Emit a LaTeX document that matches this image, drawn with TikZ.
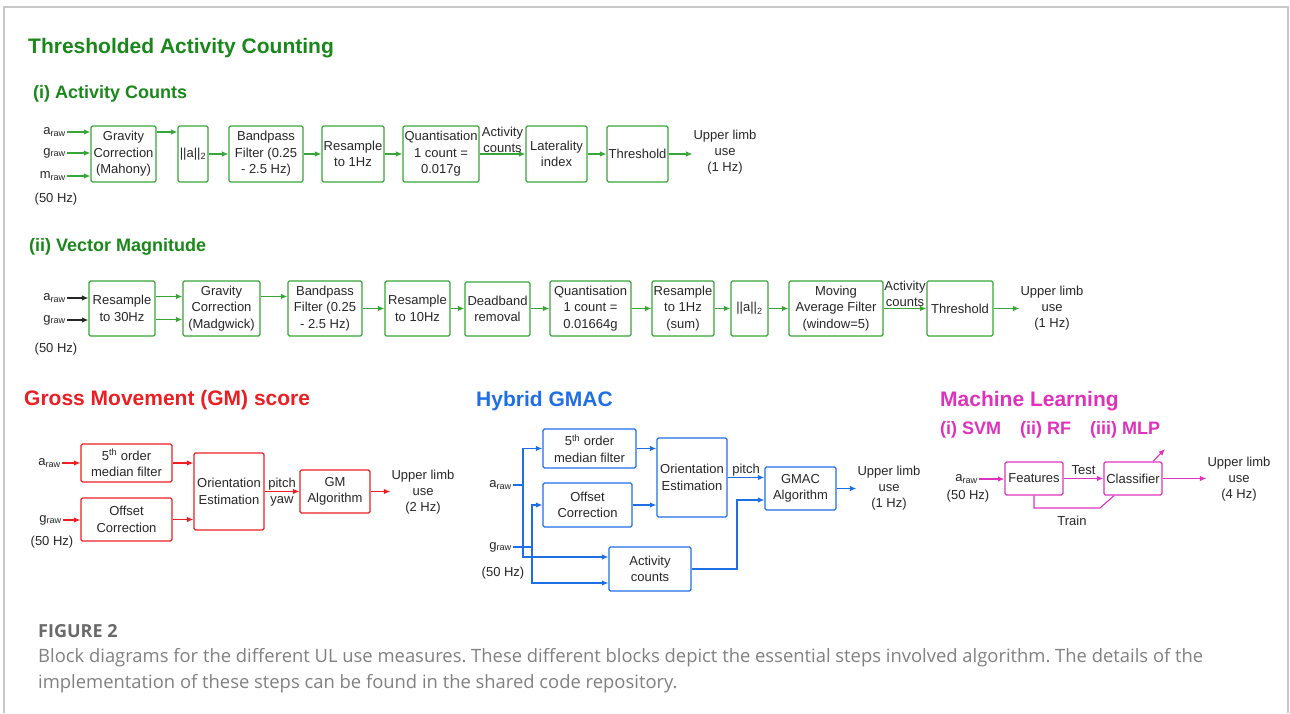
\documentclass[tikz,border=0pt]{standalone}
\usepackage{fontspec}
\setmainfont{Liberation Sans}
\newfontfamily\capfont{Open Sans}
\usepackage{tikz}
\usetikzlibrary{arrows.meta}
\frenchspacing
\definecolor{tacgreen}{RGB}{25,135,25}
\definecolor{boxgreen}{RGB}{55,165,55}
\definecolor{gmred}{RGB}{235,30,35}
\definecolor{gmacblue}{RGB}{30,110,230}
\definecolor{mlpink}{RGB}{222,50,188}
\definecolor{capgray}{RGB}{105,105,105}
\definecolor{framegray}{RGB}{200,200,200}
\tikzset{
  blk/.style={draw, rounded corners=1.5pt, line width=1.3pt, align=center, inner sep=1pt, text=black!85, font=\fontsize{13}{16.5}\selectfont},
  lbl/.style={align=center, inner sep=1pt, text=black!85, font=\fontsize{13}{16}\selectfont},
  ttl/.style={anchor=west, inner sep=0pt, font=\fontsize{21}{24}\selectfont\bfseries},
  subttl/.style={anchor=west, inner sep=0pt, font=\fontsize{18}{21}\selectfont\bfseries},
}

\begin{document}
\begin{tikzpicture}[x=1pt, y=-1pt,
  gbox/.style={blk, draw=boxgreen},
  rbox/.style={blk, draw=gmred},
  bbox/.style={blk, draw=gmacblue},
  mbox/.style={blk, draw=mlpink},
  garr/.style={boxgreen, line width=1.1pt, -{Latex[length=6.5pt,width=5.5pt]}},
  karr/.style={black!85, line width=1.1pt, -{Latex[length=6.5pt,width=5.5pt]}},
  rarr/.style={gmred, line width=1.1pt, -{Latex[length=6.5pt,width=5.5pt]}},
  barr/.style={gmacblue, line width=1.1pt, -{Latex[length=6.5pt,width=5.5pt]}},
  bline/.style={gmacblue, line width=1.1pt},
  marr/.style={mlpink, line width=1.1pt, -{Latex[length=6.5pt,width=5.5pt]}},
  mline/.style={mlpink, line width=1.1pt}]

\useasboundingbox (0,0) rectangle (1290,713);

%Frame
\draw[framegray, line width=1.3pt] (4,713) -- (4,7) -- (1288,7) -- (1288,713);

%Titles
\node[ttl, text=tacgreen] (ttac) at (28,48) {Thresholded Activity Counting};
\node[subttl, text=tacgreen] (tac) at (33,94) {(i) Activity Counts};
\node[subttl, text=tacgreen] (tvm) at (29,247) {(ii) Vector Magnitude};
\node[ttl, text=gmred] (tgm) at (24,400) {Gross Movement (GM) score};
\node[ttl, text=gmacblue] (tgmac) at (476,401) {Hybrid GMAC};
\node[ttl, text=mlpink] (tml) at (940,401) {Machine Learning};
\node[subttl, text=mlpink] (tsvm) at (940,430) {(i) SVM};
\node[subttl, text=mlpink] (trf) at (1020,430) {(ii) RF};
\node[subttl, text=mlpink] (tmlp) at (1090,430) {(iii) MLP};

%Activity counts chain
\node[lbl, anchor=east] (ar1) at (67,132) {a\textsubscript{raw}};
\node[lbl, anchor=east] (gr1) at (67,153) {g\textsubscript{raw}};
\node[lbl, anchor=east] (mr1) at (67,176) {m\textsubscript{raw}};
\node[lbl] (hz1) at (56,199) {(50 Hz)};
\node[gbox, minimum width=65pt, minimum height=56pt] (gc1) at (123.5,154) {Gravity\\Correction\\(Mahony)};
\node[gbox, minimum width=30pt, minimum height=56pt] (norm1) at (193,154) {||a||\textsubscript{2}};
\node[gbox, minimum width=74pt, minimum height=56pt] (bp1) at (266,154) {Bandpass\\Filter (0.25\\- 2.5 Hz)};
\node[gbox, minimum width=62pt, minimum height=56pt] (rs1) at (353,154) {Resample\\to 1Hz};
\node[gbox, minimum width=76pt, minimum height=56pt] (qt1) at (441,154) {Quantisation\\1 count =\\0.017g};
\node[gbox, minimum width=61pt, minimum height=56pt] (lat) at (556.5,154) {Laterality\\index};
\node[gbox, minimum width=61pt, minimum height=56pt] (thr1) at (637.5,154) {Threshold};
\node[lbl] (out1) at (725,152) {Upper limb\\use\\(1 Hz)};

\draw[garr] (ar1) -- (ar1 -| gc1.west);
\draw[garr] (gr1) -- (gr1 -| gc1.west);
\draw[garr] (mr1) -- (mr1 -| gc1.west);
\draw[garr] (gc1.east |- ar1) -- (norm1.west |- ar1);
\draw[garr] (norm1) -- (bp1);
\draw[garr] (bp1) -- (rs1);
\draw[garr] (rs1) -- (qt1);
\draw[garr] (qt1) -- node[lbl, above] (cnt1) {Activity\\counts} (lat);
\draw[garr] (lat) -- (thr1);
\draw[garr] (thr1) -- (thr1 -| out1.west);

%Vector magnitude chain
\node[lbl, anchor=east] (ar2) at (67,298) {a\textsubscript{raw}};
\node[lbl, anchor=east] (gr2) at (67,320) {g\textsubscript{raw}};
\node[lbl] (hz2) at (56,349) {(50 Hz)};
\node[gbox, minimum width=66pt, minimum height=55pt] (rs30) at (122,308.5) {Resample\\to 30Hz};
\node[gbox, minimum width=77pt, minimum height=55pt] (gc2) at (221.5,308.5) {Gravity\\Correction\\(Madgwick)};
\node[gbox, minimum width=74pt, minimum height=55pt] (bp2) at (325,308.5) {Bandpass\\Filter (0.25\\- 2.5 Hz)};
\node[gbox, minimum width=65pt, minimum height=55pt] (rs10) at (417.5,308.5) {Resample\\to 10Hz};
\node[gbox, minimum width=65pt, minimum height=54pt] (db) at (497.5,309) {Deadband\\removal};
\node[gbox, minimum width=81pt, minimum height=55pt] (qt2) at (590.5,308.5) {Quantisation\\1 count =\\0.01664g};
\node[gbox, minimum width=62pt, minimum height=55pt] (rs1s) at (683,308.5) {Resample\\to 1Hz\\(sum)};
\node[gbox, minimum width=37pt, minimum height=55pt] (norm2) at (749.5,308.5) {||a||\textsubscript{2}};
\node[gbox, minimum width=94pt, minimum height=55pt] (mav) at (836,308.5) {Moving\\Average Filter\\(window=5)};
\node[gbox, minimum width=66pt, minimum height=55pt] (thr2) at (960,308.5) {Threshold};
\node[lbl] (out2) at (1052,308) {Upper limb\\use\\(1 Hz)};

\draw[karr] (ar2) -- (ar2 -| rs30.west);
\draw[karr] (gr2) -- (gr2 -| rs30.west);
\draw[garr] ([yshift=12pt]rs30.east) -- ([yshift=12pt]gc2.west);
\draw[garr] ([yshift=-11pt]rs30.east) -- ([yshift=-11pt]gc2.west);
\draw[garr] ([yshift=12pt]gc2.east) -- ([yshift=12pt]bp2.west);
\draw[garr] (bp2) -- (rs10);
\draw[garr] (rs10) -- (rs10 -| db.west);
\draw[garr] (db.east |- qt2) -- (qt2);
\draw[garr] (qt2) -- (rs1s);
\draw[garr] (rs1s) -- (norm2);
\draw[garr] (norm2) -- (mav);
\draw[garr] (mav) -- node[lbl, above] (cnt2) {Activity\\counts} (thr2);
\draw[garr] (thr2) -- (thr2 -| out2.west);

%Gross movement score
\node[lbl, anchor=east] (ar3) at (62,463) {a\textsubscript{raw}};
\node[lbl, anchor=east] (gr3) at (63,520) {g\textsubscript{raw}};
\node[lbl] (hz3) at (52,542) {(50 Hz)};
\node[rbox, minimum width=91pt, minimum height=38pt] (mf) at (126.5,463) {5\textsuperscript{th} order\\median filter};
\node[rbox, minimum width=91pt, minimum height=43pt] (oc) at (126.5,519.5) {Offset\\Correction};
\node[rbox, minimum width=70pt, minimum height=77pt] (oe) at (229,491.5) {Orientation\\Estimation};
\node[rbox, minimum width=70pt, minimum height=43pt] (gma) at (335,491.5) {GM\\Algorithm};
\node[lbl] (out3) at (423,492) {Upper limb\\use\\(2 Hz)};

\draw[rarr] (ar3) -- (ar3 -| mf.west);
\draw[rarr] (gr3) -- (gr3 -| oc.west);
\draw[rarr] (mf) -- (mf -| oe.west);
\draw[rarr] (oc) -- (oc -| oe.west);
\draw[rarr] (oe) -- node[lbl, above] (pit) {pitch} node[lbl, below, yshift=-3pt] (yaw) {yaw} (gma);
\draw[rarr] (gma) -- (gma -| out3.west);

%Hybrid GMAC
\node[lbl, anchor=east] (ar4) at (513,485) {a\textsubscript{raw}};
\node[lbl, anchor=east] (gr4) at (513,547) {g\textsubscript{raw}};
\node[lbl] (hz4) at (503,573) {(50 Hz)};
\node[bbox, minimum width=93pt, minimum height=39pt] (hmf) at (589.5,448.5) {5\textsuperscript{th} order\\median filter};
\node[bbox, minimum width=89pt, minimum height=44pt] (hoc) at (587.5,505) {Offset\\Correction};
\node[bbox, minimum width=70pt, minimum height=79pt] (hoe) at (692,477.5) {Orientation\\Estimation};
\node[bbox, minimum width=71pt, minimum height=43pt] (hga) at (800.5,488.5) {GMAC\\Algorithm};
\node[bbox, minimum width=82pt, minimum height=44pt] (hac) at (650,569) {Activity\\counts};
\node[lbl] (out4) at (889,488) {Upper limb\\use\\(1 Hz)};
\coordinate (aj) at (523,485);
\coordinate (gj) at (532,547);
\coordinate (hk) at (737,500);

\draw[bline] (ar4) -- (aj);
\draw[barr] (aj) |- (hmf);
\draw[barr] (aj) |- ([yshift=12pt]hac.west);
\draw[bline] (gr4) -- (gj);
\draw[barr] (gj) |- (hoc);
\draw[barr] (gj) |- ([yshift=-14pt]hac.west);
\draw[barr] (hmf) -- (hmf -| hoe.west);
\draw[barr] (hoc) -- (hoc -| hoe.west);
\draw[barr] (hoe) -- node[lbl, above] (hpit) {pitch} (hoe -| hga.west);
\draw[barr] (hac) -| (hk) -- (hk -| hga.west);
\draw[barr] (hga) -- (hga -| out4.west);

%Machine learning
\node[lbl, anchor=east] (ar5) at (979,479) {a\textsubscript{raw}};
\node[lbl] (hz5) at (968,496) {(50 Hz)};
\node[mbox, minimum width=58pt, minimum height=33pt] (feat) at (1034,478.5) {Features};
\node[mbox, minimum width=58pt, minimum height=33pt] (clf) at (1133,478.5) {Classifier};
\node[lbl] (out5) at (1239,479) {Upper limb\\use\\(4 Hz)};
\node[lbl] (trn) at (1072,521) {Train};
\coordinate (tk) at (1100,508);
\coordinate (mlx) at (1165,449);

\draw[marr] (ar5) -- (ar5 -| feat.west);
\draw[marr] (feat) -- node[lbl, above, yshift=2pt] (tst) {Test} (clf);
\draw[marr] (clf) -- (clf -| out5.west);
\draw[mline] (feat.south) |- (tk) -- ([xshift=-19pt]clf.south);
\draw[marr] ([xshift=20pt]clf.north) -- (mlx);

%Caption
\node[anchor=base west, inner sep=0pt, text=capgray, font=\capfont\bfseries\fontsize{18}{21}\selectfont] (fig) at (38,637) {FIGURE 2};
\node[anchor=base west, inner sep=0pt, text=capgray!85, font=\capfont\fontsize{18.4}{21}\selectfont] (cap1) at (38,662) {Block diagrams for the different UL use measures. These different blocks depict the essential steps involved algorithm. The details of the};
\node[anchor=base west, inner sep=0pt, text=capgray!85, font=\capfont\fontsize{18.4}{21}\selectfont] (cap2) at (38,688) {implementation of these steps can be found in the shared code repository.};

\end{tikzpicture}
\end{document}
